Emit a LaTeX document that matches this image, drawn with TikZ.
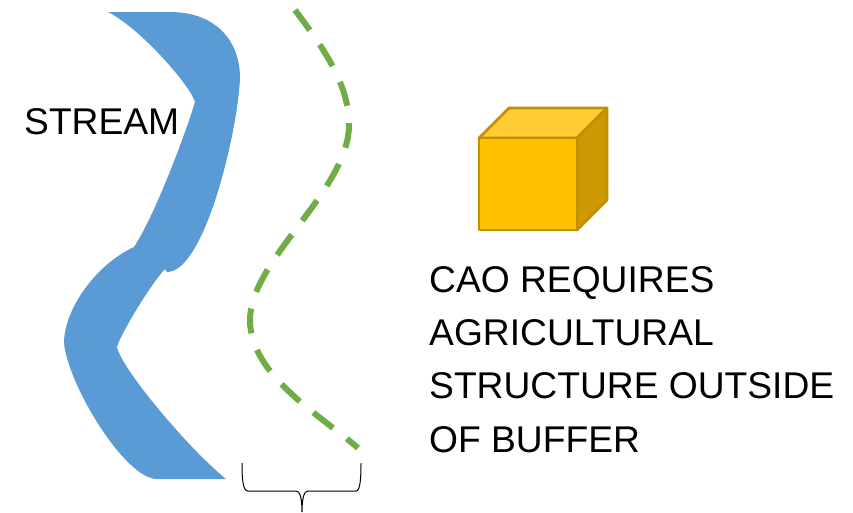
\documentclass[tikz,border=0pt]{standalone}
\usepackage{fontspec}
\setmainfont{Liberation Sans}
\definecolor{streamblue}{HTML}{5B9BD5}
\definecolor{buffergreen}{HTML}{70AD47}
\definecolor{cubeedge}{HTML}{BF9000}
\definecolor{cubefront}{HTML}{FFC000}
\definecolor{cubetop}{HTML}{FFCD33}
\definecolor{cubeside}{HTML}{CC9A00}
\tikzset{
	caption/.style={anchor=base west,inner sep=0pt,font=\fontsize{37.2}{46}\selectfont},
	cubeface/.style={draw=cubeedge,line width=2.75pt,line join=round},
}
\begin{document}
\begin{tikzpicture}[x=1pt,y=-1pt]
	\useasboundingbox (0,0) rectangle (853,512);

	% stream
	\fill[streamblue] (108,12) -- (170,12) .. controls (215,12) and (240,40) .. (240,78)
		.. controls (238,130) and (205,272) .. (167,272) -- (165,269)
		.. controls (150,285) and (120,335) .. (117,347)
		.. controls (122,370) and (190,450) .. (226,479) -- (157,479)
		.. controls (125,479) and (68,385) .. (64,343)
		.. controls (64,310) and (95,265) .. (134,247)
		.. controls (155,215) and (185,135) .. (195,102)
		.. controls (190,85) and (140,28) .. (108,12) -- cycle;
	\node[caption] (stream) at (24,134) {STREAM};

	% buffer line
	\draw[buffergreen,line width=6pt,dash pattern=on 25pt off 17.5pt] (295,10)
		.. controls (325,50) and (349,85) .. (349,125)
		.. controls (349,190) and (250,260) .. (250,320)
		.. controls (250,375) and (320,415) .. (358,448);

	% brace
	\draw[line width=1pt] (242,463) .. controls (242,480) and (243,491) .. (248,491) -- (296,491)
		.. controls (300,491) and (302,498) .. (302,512)
		.. controls (302,498) and (304,491) .. (308,491) -- (356,491)
		.. controls (360,491) and (361,480) .. (361,463);

	% cube
	\filldraw[cubeface,fill=cubetop] (479,138) -- (509,108) -- (607,108) -- (577,138) -- cycle;
	\filldraw[cubeface,fill=cubeside] (577,138) -- (607,108) -- (607,200) -- (577,230) -- cycle;
	\filldraw[cubeface,fill=cubefront] (479,138) rectangle (577,230);

	% requirement text
	\foreach \i/\y/\txt in {1/292/CAO REQUIRES,2/345/AGRICULTURAL,3/398/STRUCTURE OUTSIDE,4/452/OF BUFFER}
		\node[caption] (req\i) at (429,\y) {\txt};
\end{tikzpicture}
\end{document}
